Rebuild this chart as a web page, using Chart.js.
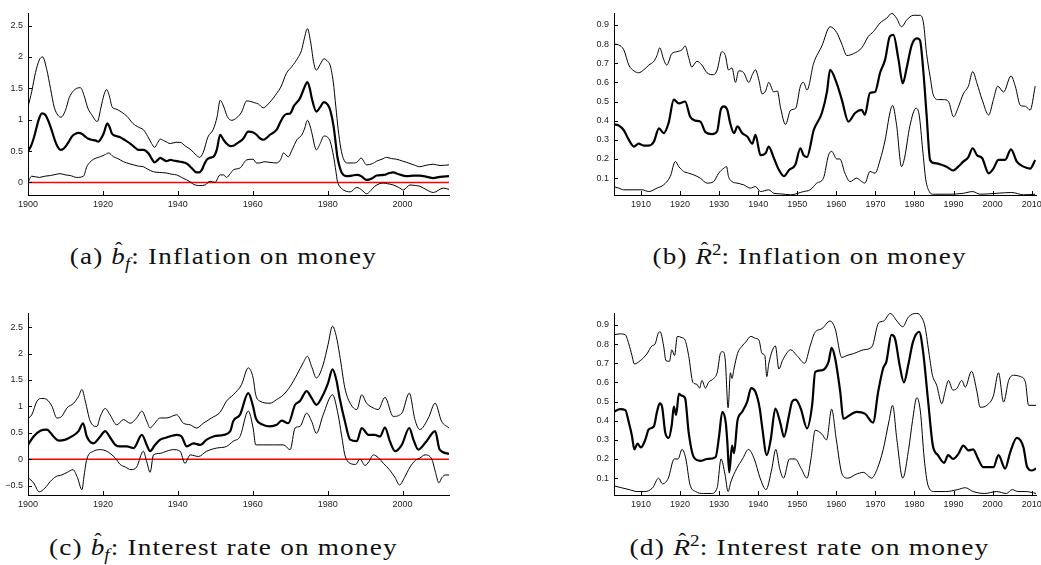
<!DOCTYPE html>
<html><head><meta charset="utf-8">
<script src="https://cdn.jsdelivr.net/npm/chart.js@4.4.1/dist/chart.umd.min.js"></script>
<style>
html,body{margin:0;padding:0;background:#fff;width:1041px;height:565px;overflow:hidden;position:relative}
canvas{position:absolute}
.cap{position:absolute;font-family:"Liberation Serif","Times New Roman",serif;font-size:23px;line-height:24px;letter-spacing:1px;color:#111;white-space:nowrap;transform-origin:50% 50%}
.hat{position:relative;display:inline-block;font-style:italic;letter-spacing:0}
.hat .c{position:absolute;left:1px;right:0;top:-8px;text-align:center;font-style:normal;font-size:19px}
sub,sup{font-size:16px;line-height:0;letter-spacing:0}
sub{font-style:italic;vertical-align:-5px;margin-right:1px}
sup{vertical-align:9px}
</style></head><body>
<canvas id="ca" width="470" height="215" style="left:0;top:0"></canvas>
<canvas id="cb" width="480" height="215" style="left:580px;top:0"></canvas>
<canvas id="cc" width="470" height="215" style="left:0;top:300px"></canvas>
<canvas id="cd" width="480" height="215" style="left:580px;top:300px"></canvas>
<div class="cap" id="capA">(a) <span class="hat">b<span class="c">ˆ</span></span><sub>f</sub>: Inflation on money</div>
<div class="cap" id="capB">(b) <span class="hat">R<span class="c">ˆ</span></span><sup>2</sup>: Inflation on money</div>
<div class="cap" id="capC">(c) <span class="hat">b<span class="c">ˆ</span></span><sub>f</sub>: Interest rate on money</div>
<div class="cap" id="capD">(d) <span class="hat">R<span class="c">ˆ</span></span><sup>2</sup>: Interest rate on money</div>
<script>
// ---------- tick labels ----------
const bfXTicks = [1900,1920,1940,1960,1980,2000];
const r2XTicks = [1910,1920,1930,1940,1950,1960,1970,1980,1990,2000,2010];
const aYTicks = [0,0.5,1,1.5,2,2.5];
const aYLabels = ['0','0.5','1','1.5','2','2.5'];
const cYTicks = [-0.5,0,0.5,1,1.5,2,2.5];
const cYLabels = ['\u22120.5','0','0.5','1','1.5','2','2.5'];
const r2YTicks = [0.1,0.2,0.3,0.4,0.5,0.6,0.7,0.8,0.9];
const r2YLabels = ['0.1','0.2','0.3','0.4','0.5','0.6','0.7','0.8','0.9'];

// ---------- (a) b_f : inflation on money ----------
const aUpYears = [1900,1901,1902,1903,1903.9,1905,1906,1907,1908,1908.8,1910,1911,1912,1913,1914,1915,1916,1917,1918.5,1919.5,1920.3,1921,1921.7,1922.5,1923.5,1925,1926.5,1928,1929.5,1930.8,1932,1933,1933.8,1934.5,1935.3,1936.5,1938,1939.5,1940.6,1942,1943.5,1945,1945.8,1946.8,1948,1949.5,1950.5,1951.3,1952.3,1953.2,1954.4,1955.7,1957,1958.4,1959.5,1960.5,1961.5,1962.8,1964.6,1966.4,1967.5,1969,1970.5,1972,1973,1973.8,1974.6,1975.5,1976.3,1977,1978,1979,1980,1980.7,1981.5,1982.2,1982.8,1983.5,1984.2,1985.2,1986.9,1988,1988.9,1990.4,1992,1993.1,1994.5,1995.7,1997,1998.4,2000,2001.1,2003,2004.6,2006,2008.2,2010,2012.4];
const aUpVals = [1.2,1.45,1.75,1.95,2.0,1.8,1.5,1.2,1.07,1.04,1.15,1.35,1.45,1.5,1.51,1.38,1.18,1.08,0.97,1.2,1.4,1.48,1.38,1.2,1.17,1.12,1.05,0.94,0.88,0.84,0.73,0.62,0.56,0.62,0.69,0.66,0.62,0.64,0.64,0.58,0.52,0.43,0.4,0.48,0.72,0.85,1.05,1.31,1.2,1.05,0.99,1.03,1.12,1.3,1.29,1.27,1.25,1.19,1.28,1.42,1.52,1.74,1.85,1.98,2.1,2.3,2.45,2.22,1.9,1.79,1.88,1.97,1.93,1.86,1.6,1.2,0.85,0.55,0.38,0.31,0.31,0.33,0.39,0.28,0.3,0.34,0.37,0.4,0.38,0.37,0.34,0.32,0.28,0.25,0.27,0.29,0.27,0.28];
const aMidYears = [1900,1900.8,1901.5,1902.3,1902.8,1903.7,1904.6,1905.3,1906,1906.7,1907.3,1908,1908.6,1909.3,1910,1911,1911.7,1912.5,1913.5,1914.5,1915.3,1916,1917,1918,1918.8,1919.5,1920.2,1921.2,1921.8,1922.4,1923.5,1924.6,1926,1927.3,1928.5,1929.5,1930.8,1932.2,1933,1933.8,1934.5,1935.3,1936,1937,1938,1938.8,1939.7,1940.6,1941.5,1942.4,1943.7,1945,1945.7,1946.4,1947,1947.7,1949,1949.5,1950.4,1951.3,1952.2,1953,1954,1955,1955.7,1957,1957.5,1958.8,1960,1961,1962,1962.8,1963.7,1964.6,1966.4,1967.3,1968.2,1969,1970,1971,1972.6,1973.5,1974.6,1975.3,1975.7,1977,1978,1979,1980,1980.7,1981.6,1982.2,1982.6,1983.2,1983.8,1985.1,1986.5,1987.8,1989,1990.4,1992,1993.1,1995,1996.5,1997.5,1999,2001.1,2003,2004.6,2006.5,2008.2,2010,2012.4];
const aMidVals = [0.5,0.58,0.7,0.88,0.99,1.1,1.08,1.0,0.89,0.76,0.65,0.56,0.52,0.53,0.57,0.66,0.73,0.77,0.79,0.77,0.73,0.7,0.68,0.67,0.65,0.7,0.78,0.94,0.88,0.78,0.74,0.72,0.67,0.62,0.56,0.52,0.52,0.46,0.38,0.32,0.35,0.39,0.37,0.34,0.36,0.35,0.34,0.33,0.32,0.3,0.23,0.16,0.16,0.2,0.28,0.36,0.4,0.41,0.52,0.76,0.68,0.62,0.58,0.59,0.62,0.67,0.7,0.81,0.8,0.76,0.7,0.68,0.71,0.76,0.84,0.95,1.05,1.09,1.1,1.22,1.34,1.47,1.6,1.48,1.36,1.13,1.2,1.28,1.24,1.15,0.89,0.6,0.41,0.25,0.15,0.1,0.11,0.12,0.1,0.04,0.07,0.11,0.12,0.15,0.16,0.13,0.1,0.11,0.11,0.09,0.07,0.09,0.1];
const aLowYears = [1900,1901,1903,1904.5,1906,1907.5,1908.6,1910,1911.3,1913,1914.8,1915.7,1916.5,1917.5,1919.3,1920.5,1921.5,1922.8,1924,1925.5,1927,1928.2,1929.5,1930.8,1932,1933.5,1935,1937,1938.5,1939.7,1941,1942.4,1943.5,1944.2,1945.9,1947.3,1948.6,1949.9,1951.3,1952.2,1953,1954,1954.8,1956.6,1958.4,1960.1,1961,1961.9,1963,1964.6,1966.4,1967.5,1968.2,1969.5,1970.5,1971.8,1973,1973.8,1974.6,1975.3,1975.7,1977,1978,1979,1980,1980.7,1981.6,1982.2,1982.6,1983.3,1984.2,1986,1987.8,1989.1,1990.4,1991.5,1992.6,1994.9,1996,1997.5,1999,2000.2,2002,2003.5,2004.6,2006.5,2008.2,2010.9,2012.4];
const aLowVals = [0.0,0.1,0.08,0.1,0.11,0.13,0.14,0.12,0.11,0.08,0.1,0.25,0.32,0.37,0.41,0.44,0.47,0.41,0.38,0.33,0.3,0.28,0.26,0.25,0.21,0.17,0.16,0.15,0.13,0.12,0.08,0.04,0.0,-0.03,-0.05,-0.04,0.02,0.0,0.12,0.12,0.08,0.14,0.2,0.23,0.36,0.37,0.31,0.31,0.33,0.32,0.31,0.37,0.47,0.41,0.52,0.68,0.75,0.85,0.99,0.9,0.81,0.52,0.62,0.74,0.72,0.65,0.41,0.18,0.02,-0.07,-0.12,-0.15,-0.08,-0.12,-0.18,-0.13,-0.06,-0.01,-0.02,-0.04,-0.08,-0.12,-0.04,-0.05,-0.06,-0.12,-0.16,-0.09,-0.11];

// ---------- (b) R^2 : inflation on money ----------
const bUpYears = [1903,1904.3,1905.6,1906.9,1908.2,1909.4,1910.7,1912,1913.3,1914.1,1914.8,1915.8,1916.6,1917.9,1919.2,1920.5,1921.3,1922.2,1923,1924.3,1925.6,1926.9,1928.6,1929.5,1930.7,1931.6,1932.4,1933.3,1934.2,1935,1936.3,1937.6,1938.5,1939.3,1940.2,1941,1941.9,1942.7,1944,1944.9,1945.7,1947,1948.3,1949.6,1950.8,1951.6,1952.5,1954.2,1956.3,1958.4,1960.1,1961.4,1962.7,1964.4,1966.5,1968.2,1969.5,1971.2,1972.9,1974.2,1975.4,1976.7,1978,1979.7,1981.4,1982.3,1983.1,1984,1984.8,1986.1,1987.4,1988.7,1990,1991.2,1992.5,1993.8,1994.9,1996,1997.3,1999,2000.2,2001.3,2002.8,2004.7,2005.8,2007.1,2008.4,2009.6,2010.9];
const bUpVals = [0.80,0.795,0.77,0.69,0.66,0.65,0.665,0.69,0.71,0.74,0.78,0.72,0.69,0.75,0.76,0.77,0.79,0.73,0.68,0.71,0.69,0.65,0.64,0.665,0.76,0.74,0.665,0.675,0.60,0.66,0.65,0.60,0.64,0.665,0.61,0.54,0.555,0.60,0.55,0.555,0.47,0.38,0.455,0.465,0.58,0.60,0.56,0.70,0.79,0.89,0.86,0.80,0.74,0.75,0.78,0.84,0.865,0.91,0.935,0.96,0.935,0.89,0.925,0.95,0.95,0.91,0.75,0.63,0.535,0.51,0.51,0.50,0.42,0.47,0.54,0.58,0.656,0.595,0.51,0.43,0.51,0.58,0.55,0.633,0.58,0.48,0.475,0.455,0.58];
const bMidYears = [1903,1904.3,1905.6,1906.9,1908.2,1909.4,1910.7,1912,1913.3,1914.6,1915.8,1917.1,1918.4,1919.7,1921.3,1922.6,1923.9,1925.2,1926.5,1928.2,1929.5,1930.4,1931.2,1932.1,1932.8,1933.8,1934.7,1935.9,1937.2,1938.5,1939.3,1940.6,1941.9,1942.7,1944,1945.3,1946.6,1947.9,1949.5,1950.8,1951.6,1952.5,1954.2,1956.3,1957.6,1958.4,1960.1,1961.4,1963.1,1964.8,1966.5,1967.3,1968.6,1969.9,1971.2,1972.5,1973.7,1974.6,1975.9,1977,1978,1979.3,1980.6,1981.4,1982.3,1983.1,1984,1985.2,1986.9,1988.2,1989.9,1991.2,1992.5,1993.8,1994.9,1996,1997.3,1999,2000.2,2001.5,2003.2,2004.7,2006.2,2007.9,2009.6,2010.9];
const bMidVals = [0.38,0.375,0.35,0.30,0.265,0.28,0.27,0.27,0.29,0.36,0.335,0.39,0.51,0.49,0.50,0.42,0.40,0.395,0.34,0.33,0.345,0.456,0.475,0.456,0.39,0.335,0.37,0.335,0.317,0.28,0.326,0.22,0.23,0.265,0.205,0.143,0.11,0.143,0.17,0.256,0.22,0.21,0.35,0.44,0.55,0.665,0.595,0.51,0.395,0.44,0.456,0.43,0.545,0.55,0.65,0.72,0.84,0.848,0.72,0.595,0.675,0.795,0.83,0.82,0.65,0.43,0.195,0.178,0.17,0.16,0.14,0.16,0.186,0.21,0.256,0.22,0.205,0.125,0.15,0.195,0.195,0.25,0.186,0.16,0.15,0.195];
const bLowYears = [1903,1904.3,1905.6,1908.2,1910.3,1912,1914.1,1915.8,1917.5,1918.8,1919.7,1920.9,1922.2,1923.5,1925.2,1926.9,1928.6,1929.9,1931.2,1931.9,1932.4,1933.3,1934.6,1936.3,1938,1939.3,1940.6,1942.7,1944,1945.7,1948.3,1951.6,1953.3,1955,1956.7,1958,1958.8,1960.1,1960.9,1962.2,1963.5,1965.2,1966.5,1967.3,1968.6,1969.9,1971.2,1972.5,1973.7,1974.4,1975.4,1976.7,1977.5,1978.8,1980.4,1981.2,1982.1,1982.9,1983.8,1984.8,1989.1,1992.5,1994.9,1996.8,2001.1,2004.9,2007.9,2010.9];
const bLowVals = [0.056,0.048,0.039,0.039,0.039,0.03,0.048,0.065,0.109,0.187,0.16,0.135,0.126,0.117,0.1,0.074,0.082,0.126,0.152,0.16,0.109,0.082,0.074,0.065,0.048,0.056,0.03,0.039,0.021,0.018,0.013,0.03,0.039,0.074,0.1,0.22,0.24,0.2,0.2,0.126,0.082,0.1,0.082,0.074,0.135,0.126,0.195,0.3,0.44,0.48,0.38,0.16,0.21,0.37,0.465,0.43,0.248,0.091,0.03,0.016,0.016,0.021,0.03,0.016,0.021,0.025,0.013,0.016];

// ---------- (c) b_f : interest rate on money ----------
const cUpYears = [1900,1901,1902.4,1903.7,1905,1906.4,1907.7,1909,1910.4,1912.2,1913.5,1914.4,1915.3,1916.6,1918.4,1919.3,1920.6,1921.9,1923.7,1925.5,1927.3,1929,1930.4,1931.7,1932.6,1933.5,1935.3,1937,1939.7,1941.5,1943.3,1945,1946.8,1949,1951.3,1953,1954.8,1957,1958.8,1960.1,1960.8,1961.9,1964.6,1966.4,1968.2,1970,1971.8,1973.5,1974.6,1975.7,1977,1978.8,1980.1,1981.3,1982.3,1983.2,1984.6,1986,1987.8,1989.1,1990.4,1992.2,1993.5,1995.3,1997.5,1999.8,2001.8,2003.3,2004.6,2006.9,2008.7,2010.4,2012.4];
const cUpVals = [0.77,0.84,1.1,1.15,1.13,1.0,0.78,0.81,0.97,1.06,1.19,1.32,1.1,0.72,0.62,0.81,0.96,0.84,0.65,0.75,0.68,0.78,0.91,0.72,0.59,0.65,0.78,0.78,0.84,0.68,0.65,0.59,0.68,0.78,0.89,1.1,1.22,1.41,1.73,1.54,1.22,1.1,1.06,1.13,1.22,1.38,1.6,1.83,1.95,1.76,1.54,1.79,2.17,2.52,2.33,1.98,1.35,1.06,0.94,1.22,1.06,0.97,0.94,1.17,0.81,0.87,1.25,0.75,0.56,0.78,1.06,0.72,0.59];
const cMidYears = [1900,1901.5,1903.3,1905,1906.8,1908.2,1910,1911.7,1913.5,1914.7,1915.7,1917.5,1919.3,1920.6,1922,1923.3,1924.6,1926.4,1928.2,1930.4,1931.7,1932.6,1933.9,1935.3,1937,1939.7,1941,1942.4,1944.2,1946,1947.7,1949.5,1952.2,1954,1954.8,1956.6,1958.8,1960.1,1960.8,1962.8,1964.6,1966.4,1967.7,1969.5,1971.3,1972.6,1974.4,1975.7,1977,1978.8,1980.1,1981.3,1982.3,1983.2,1984.6,1986,1987.8,1989.1,1990.9,1992.6,1994,1995.3,1996.6,1998,1999.8,2001.8,2002.9,2004.2,2006.4,2008.7,2009.9,2012.4];
const cMidVals = [0.27,0.43,0.54,0.56,0.43,0.35,0.37,0.43,0.53,0.68,0.43,0.3,0.43,0.53,0.4,0.27,0.24,0.24,0.21,0.46,0.27,0.15,0.27,0.37,0.41,0.46,0.43,0.24,0.3,0.27,0.37,0.43,0.46,0.53,0.72,0.84,1.25,1.0,0.78,0.65,0.62,0.65,0.73,0.68,1.03,1.1,1.29,1.16,1.03,1.22,1.44,1.7,1.51,1.16,0.72,0.37,0.34,0.59,0.46,0.46,0.43,0.6,0.34,0.15,0.27,0.59,0.37,0.18,0.34,0.53,0.18,0.1];
const cLowYears = [1900,1901.5,1903,1904.5,1906,1907.5,1909,1910.5,1912,1913.2,1914.4,1915,1915.7,1917.5,1919.3,1921,1923.3,1924.6,1926,1927.5,1929,1930.8,1931.7,1932.6,1933.5,1935.3,1937,1938.8,1940.6,1941.9,1943.3,1945.5,1947.7,1950.4,1953,1954.8,1956.6,1958.8,1960.1,1960.8,1962.8,1965.5,1968.2,1970,1971.3,1972.6,1974.4,1975.7,1977,1978.8,1981.3,1982.8,1983.7,1984.6,1986,1987.5,1988.6,1990,1991,1992.2,1993.5,1994.9,1996.5,1998,1999.2,2000.5,2002,2003.5,2004.6,2006,2007.8,2008.8,2009.7,2010.5,2011.5,2012.4];
const cLowVals = [-0.35,-0.45,-0.62,-0.55,-0.42,-0.33,-0.3,-0.25,-0.2,-0.35,-0.58,-0.3,0.0,0.15,0.18,0.15,0.02,-0.1,-0.15,-0.2,-0.15,0.15,-0.05,-0.25,0.08,0.11,0.15,0.18,0.15,-0.08,0.08,0.05,0.15,0.21,0.24,0.34,0.43,0.91,0.59,0.27,0.27,0.27,0.27,0.18,0.59,0.62,0.87,0.72,0.49,0.84,1.22,0.84,0.46,0.08,-0.08,-0.1,0.0,-0.12,-0.05,0.08,0.03,-0.08,-0.2,-0.35,-0.49,-0.35,-0.15,-0.02,0.02,0.08,0.0,-0.25,-0.45,-0.35,-0.3,-0.3];

// ---------- (d) R^2 : interest rate on money ----------
const dUpYears = [1903,1904.7,1906,1906.9,1907.7,1908.3,1909.8,1911.5,1912.8,1913.6,1914.5,1914.9,1915.8,1916.4,1917.3,1917.9,1918.6,1919.3,1920.5,1921.3,1922.2,1923.3,1924.3,1925,1925.6,1926.5,1927.3,1928.6,1929.5,1930.4,1931,1931.6,1932.3,1932.9,1933.3,1933.8,1934.7,1935.9,1936.8,1938.1,1939.3,1940.2,1941,1941.7,1942.2,1942.7,1943.6,1944.4,1945.3,1946.2,1947.4,1948.3,1949.9,1951.9,1953.3,1954.5,1956.3,1958.4,1959.7,1961.4,1962.7,1964.4,1967,1969.1,1970.8,1972.1,1973.8,1975.5,1977,1978.4,1980.6,1981.8,1982.7,1983.8,1984.6,1985.7,1987,1987.8,1988.7,1989.8,1990.8,1992.1,1993,1994.6,1996,1996.8,1998.5,2000.2,2001.5,2002.8,2004.1,2005.3,2007.1,2008.4,2009.2,2011.1];
const dUpVals = [0.848,0.853,0.848,0.80,0.74,0.696,0.713,0.748,0.79,0.80,0.86,0.864,0.79,0.713,0.71,0.77,0.74,0.84,0.833,0.82,0.74,0.60,0.59,0.57,0.61,0.57,0.60,0.62,0.65,0.755,0.76,0.71,0.467,0.65,0.62,0.67,0.75,0.79,0.81,0.84,0.83,0.82,0.75,0.74,0.63,0.696,0.765,0.79,0.67,0.713,0.755,0.77,0.74,0.70,0.79,0.86,0.88,0.92,0.88,0.73,0.74,0.75,0.77,0.785,0.91,0.92,0.96,0.92,0.89,0.94,0.96,0.94,0.89,0.74,0.637,0.584,0.488,0.55,0.61,0.56,0.567,0.61,0.575,0.658,0.55,0.47,0.48,0.53,0.65,0.497,0.61,0.637,0.63,0.60,0.48,0.48];
const dMidYears = [1903,1904.7,1906,1906.9,1907.7,1908.3,1909.1,1910,1911.1,1912,1913.3,1914.1,1914.8,1915.4,1916.2,1917.1,1917.9,1918.4,1919,1919.7,1920.5,1921.3,1922.2,1923.5,1925.2,1926.9,1929.1,1930,1930.8,1931.7,1932.1,1932.6,1933.3,1933.8,1934.7,1935.9,1937.2,1938.2,1939.3,1940.4,1941,1942.2,1943.2,1944.4,1945.7,1946.6,1947.9,1948.7,1949.6,1950.9,1952.5,1953.8,1954.6,1956.3,1958,1958.8,1959.7,1961,1961.8,1963.5,1965.2,1967.3,1969.4,1970.7,1972,1972.8,1974.1,1975,1976.2,1977.3,1978.4,1979.6,1981.2,1982.2,1983.5,1984.7,1986,1987.6,1988.6,1989.9,1991.2,1992.5,1993.8,1995,1996.3,1997.6,2000.2,2001.5,2003.2,2004.5,2006.2,2007.9,2008.8,2010,2011.1];
const dMidVals = [0.446,0.46,0.455,0.39,0.32,0.25,0.28,0.26,0.30,0.355,0.37,0.446,0.49,0.473,0.34,0.31,0.38,0.473,0.43,0.54,0.53,0.517,0.34,0.21,0.19,0.2,0.21,0.32,0.446,0.39,0.29,0.13,0.27,0.23,0.40,0.446,0.50,0.57,0.55,0.463,0.37,0.22,0.30,0.463,0.385,0.315,0.43,0.50,0.51,0.463,0.36,0.48,0.655,0.663,0.707,0.78,0.725,0.55,0.41,0.43,0.446,0.437,0.39,0.55,0.675,0.707,0.848,0.83,0.69,0.60,0.69,0.81,0.864,0.76,0.5,0.27,0.22,0.18,0.22,0.2,0.225,0.27,0.245,0.25,0.2,0.157,0.157,0.22,0.15,0.235,0.31,0.26,0.16,0.14,0.15];
const dLowYears = [1903,1905,1907,1909,1911,1913,1914.5,1915.5,1917,1918.5,1919.5,1920.5,1921.5,1922.5,1924,1926,1928,1929.5,1930.5,1931.5,1932.3,1933,1934.5,1936,1937.5,1939,1940.5,1942,1943.5,1944.5,1945.5,1946.5,1948,1949.5,1951,1952.5,1953.5,1954.6,1956.3,1957.5,1958.8,1960,1961.5,1963,1965,1967,1969,1970.5,1972,1973.5,1974.4,1975.5,1977,1978.5,1979.5,1980.6,1981.5,1982.5,1983.5,1985,1988,1991,1993,1995,1998,2001,2003.5,2005,2006.5,2008.5,2011.1];
const dLowVals = [0.06,0.05,0.04,0.03,0.03,0.05,0.1,0.07,0.1,0.2,0.2,0.25,0.2,0.07,0.03,0.02,0.02,0.05,0.2,0.12,0.03,0.08,0.15,0.2,0.25,0.2,0.1,0.04,0.15,0.25,0.15,0.1,0.2,0.2,0.15,0.1,0.2,0.35,0.33,0.3,0.46,0.3,0.12,0.1,0.12,0.13,0.1,0.15,0.25,0.4,0.48,0.3,0.1,0.25,0.4,0.52,0.45,0.2,0.06,0.03,0.03,0.04,0.05,0.03,0.02,0.03,0.02,0.04,0.03,0.03,0.02];

// ---------- helpers ----------
const pts = (xs, ys) => xs.map((x, i) => ({x, y: ys[i]}));
const TICK_FONT = {family: '"Liberation Sans", Arial, Helvetica, sans-serif', size: 9};

const innerTicks = {
  id: 'innerTicks',
  afterDatasetsDraw(chart) {
    const {ctx, chartArea: a} = chart;
    const xs = chart.scales.x, ys = chart.scales.y;
    ctx.save();
    ctx.strokeStyle = '#000'; ctx.lineWidth = 1;
    ctx.beginPath();
    xs.ticks.forEach(t => { const p = Math.round(xs.getPixelForValue(t.value)) + 0.5; ctx.moveTo(p, a.bottom); ctx.lineTo(p, a.bottom - 4); });
    ys.ticks.forEach(t => { const p = Math.round(ys.getPixelForValue(t.value)) + 0.5; ctx.moveTo(a.left, p); ctx.lineTo(a.left + 4, p); });
    ctx.stroke(); ctx.restore();
  }
};
const zeroLine = {
  id: 'zeroLine',
  beforeDatasetsDraw(chart, args, opts) {
    if (!opts.show) return;
    const {ctx, chartArea: a} = chart;
    const p = chart.scales.y.getPixelForValue(0);
    ctx.save(); ctx.strokeStyle = '#ff0000'; ctx.lineWidth = 1.5;
    ctx.beginPath(); ctx.moveTo(a.left, p); ctx.lineTo(a.right, p); ctx.stroke(); ctx.restore();
  }
};

function makeChart(id, cfg) {
  const ds = (data, w) => ({data, borderColor: '#000', borderWidth: w, pointRadius: 0, fill: false, cubicInterpolationMode: 'monotone'});
  new Chart(document.getElementById(id), {
    type: 'line',
    data: {datasets: [ds(cfg.mid, 2.2), ds(cfg.up, 1), ds(cfg.low, 1)]},
    options: {
      responsive: false, animation: false, events: [],
      layout: {padding: {left: 0, right: cfg.padR, top: 13, bottom: 0}},
      plugins: {legend: {display: false}, tooltip: {enabled: false}, zeroLine: {show: cfg.zero}},
      scales: {
        x: {type: 'linear', min: cfg.xmin, max: cfg.xmax,
            grid: {display: false, drawTicks: false}, border: {display: true, color: '#000', width: 1},
            ticks: {font: TICK_FONT, color: '#222', padding: 4, maxRotation: 0, autoSkip: false, callback: v => String(v)},
            afterBuildTicks: s => { s.ticks = cfg.xTicks.map(v => ({value: v})); },
            afterFit: s => { s.height = 20; }},
        y: {type: 'linear', min: cfg.ymin, max: cfg.ymax,
            grid: {display: false, drawTicks: false}, border: {display: true, color: '#000', width: 1},
            ticks: {font: TICK_FONT, color: '#222', padding: 5, autoSkip: false, callback: (v, i) => cfg.yLabels[i]},
            afterBuildTicks: s => { s.ticks = cfg.yTicks.map(v => ({value: v})); },
            afterFit: s => { s.width = cfg.yW; }}
      }
    },
    plugins: [innerTicks, zeroLine]
  });
}

makeChart('ca', {up: pts(aUpYears, aUpVals), mid: pts(aMidYears, aMidVals), low: pts(aLowYears, aLowVals),
  xmin: 1900, xmax: 2012.4, ymin: -0.2, ymax: 2.7, xTicks: bfXTicks, yTicks: aYTicks, yLabels: aYLabels, yW: 28, padR: 21, zero: true});
makeChart('cb', {up: pts(bUpYears, bUpVals), mid: pts(bMidYears, bMidVals), low: pts(bLowYears, bLowVals),
  xmin: 1903.1, xmax: 2011.1, ymin: 0.012, ymax: 0.962, xTicks: r2XTicks, yTicks: r2YTicks, yLabels: r2YLabels, yW: 34, padR: 24, zero: false});
makeChart('cc', {up: pts(cUpYears, cUpVals), mid: pts(cMidYears, cMidVals), low: pts(cLowYears, cLowVals),
  xmin: 1900, xmax: 2012.4, ymin: -0.68, ymax: 2.77, xTicks: bfXTicks, yTicks: cYTicks, yLabels: cYLabels, yW: 28, padR: 21, zero: true});
makeChart('cd', {up: pts(dUpYears, dUpVals), mid: pts(dMidYears, dMidVals), low: pts(dLowYears, dLowVals),
  xmin: 1903.1, xmax: 2011.1, ymin: 0.012, ymax: 0.962, xTicks: r2XTicks, yTicks: r2YTicks, yLabels: r2YLabels, yW: 34, padR: 24, zero: false});

// captions: centre each on its panel position
function place(id, cx, cy, w) {
  const el = document.getElementById(id);
  const r = el.getBoundingClientRect();
  const s = w / r.width;
  el.style.left = (cx - r.width / 2) + 'px';
  el.style.top = (cy - r.height / 2) + 'px';
  el.style.transform = 'scaleX(' + s.toFixed(3) + ')';
}
place('capA', 223.5, 257, 307);
place('capB', 810, 257, 314);
place('capC', 223.5, 548, 349);
place('capD', 810, 548, 360);
</script>
</body></html>
